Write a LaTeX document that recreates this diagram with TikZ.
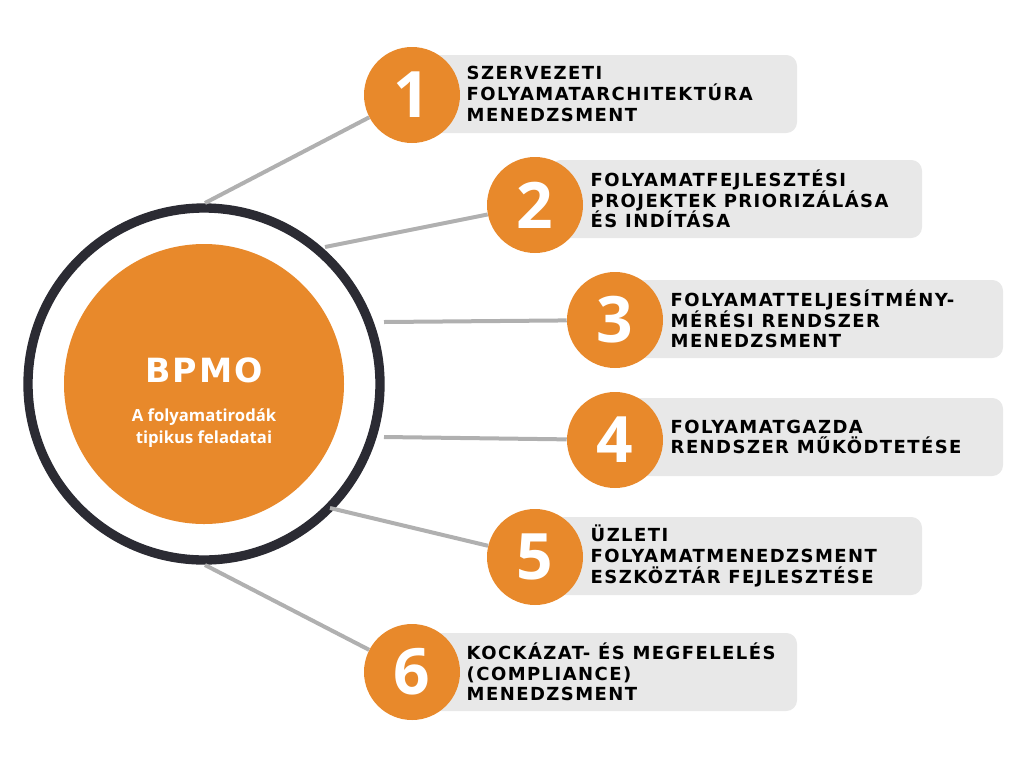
\documentclass[tikz,border=0pt]{standalone}
\usepackage{fontspec}
\setmainfont{Open Sans}
\newfontfamily\lblfont[LetterSpace=8]{DejaVu Sans}
\newfontfamily\hubfont[LetterSpace=6]{DejaVu Sans}
\definecolor{bporange}{HTML}{E8892B}
\definecolor{bpgray}{HTML}{E8E8E8}
\definecolor{bpline}{HTML}{B0B0B0}
\definecolor{bpdark}{HTML}{2B2B33}
\begin{document}
\begin{tikzpicture}[x=0.75pt,y=-0.75pt]
	        \tikzstyle{num}=[circle, fill=bporange, minimum size=96pt*0.75, inner sep=0pt, text=white, font=\fontsize{48}{48}\selectfont\bfseries]
	        \tikzstyle{lbl}=[anchor=west, text=black, align=left, font=\lblfont\fontsize{13.5}{15.5}\selectfont\bfseries]
	        \tikzstyle{conn}=[draw=bpline, line width=3pt]
	        \useasboundingbox (0,0) rectangle (1024,768);
	
	        % grey boxes
	        \fill[bpgray, rounded corners=8pt] (430,55) rectangle (797,133);
	        \fill[bpgray, rounded corners=8pt] (550,160) rectangle (922,238);
	        \fill[bpgray, rounded corners=8pt] (630,280) rectangle (1003,358);
	        \fill[bpgray, rounded corners=8pt] (630,398) rectangle (1003,476);
	        \fill[bpgray, rounded corners=8pt] (550,517) rectangle (922,595);
	        \fill[bpgray, rounded corners=8pt] (430,633) rectangle (797,711);
	
	        % centre
	        \coordinate (c) at (204,384);
	        \draw[bpdark, line width=7pt, fill=white] (c) circle(176);
	        \node[circle, fill=bporange, minimum size=210pt, inner sep=0pt] (hub) at (c) {};
	        \node[text=white, font=\hubfont\fontsize{25}{25}\selectfont\bfseries] at (204,370) {BPMO};
	        \node[text=white, align=center, font=\fontsize{12.5}{17}\selectfont\bfseries] at (204,428) {A folyamatirodák\\tipikus feladatai};
	
	        \node[num] (n1) at (412,95) {1};
	        \node[num] (n2) at (535,205) {2};
	        \node[num] (n3) at (615,320) {3};
	        \node[num] (n4) at (615,440) {4};
	        \node[num] (n5) at (535,557) {5};
	        \node[num] (n6) at (412,672) {6};
	
	        \coordinate (h1) at (205,203);
	        \coordinate (h2) at (325,247);
	        \coordinate (h3) at (384,322);
	        \coordinate (h4) at (384,437);
	        \coordinate (h5) at (330,508);
	        \coordinate (h6) at (205,565);
	        \path[conn] (h1) -- (n1);
	        \path[conn] (h2) -- (n2);
	        \path[conn] (h3) -- (n3);
	        \path[conn] (h4) -- (n4);
	        \path[conn] (h5) -- (n5);
	        \path[conn] (h6) -- (n6);
	
	        \node[lbl] (t1) at (462,94) {SZERVEZETI\\FOLYAMATARCHITEKTÚRA\\MENEDZSMENT};
	        \node[lbl] (t2) at (586,199) {FOLYAMATFEJLESZTÉSI\\PROJEKTEK PRIORIZÁLÁSA\\ÉS INDÍTÁSA};
	        \node[lbl] (t3) at (666,319) {FOLYAMATTELJESÍTMÉNY-\\MÉRÉSI RENDSZER\\MENEDZSMENT};
	        \node[lbl] (t4) at (666,437) {FOLYAMATGAZDA\\RENDSZER MŰKÖDTETÉSE};
	        \node[lbl] (t5) at (586,556) {ÜZLETI\\FOLYAMATMENEDZSMENT\\ESZKÖZTÁR FEJLESZTÉSE};
	        \node[lbl] (t6) at (462,672) {KOCKÁZAT- ÉS MEGFELELÉS\\(COMPLIANCE)\\MENEDZSMENT};
	    \end{tikzpicture}
\end{document}
